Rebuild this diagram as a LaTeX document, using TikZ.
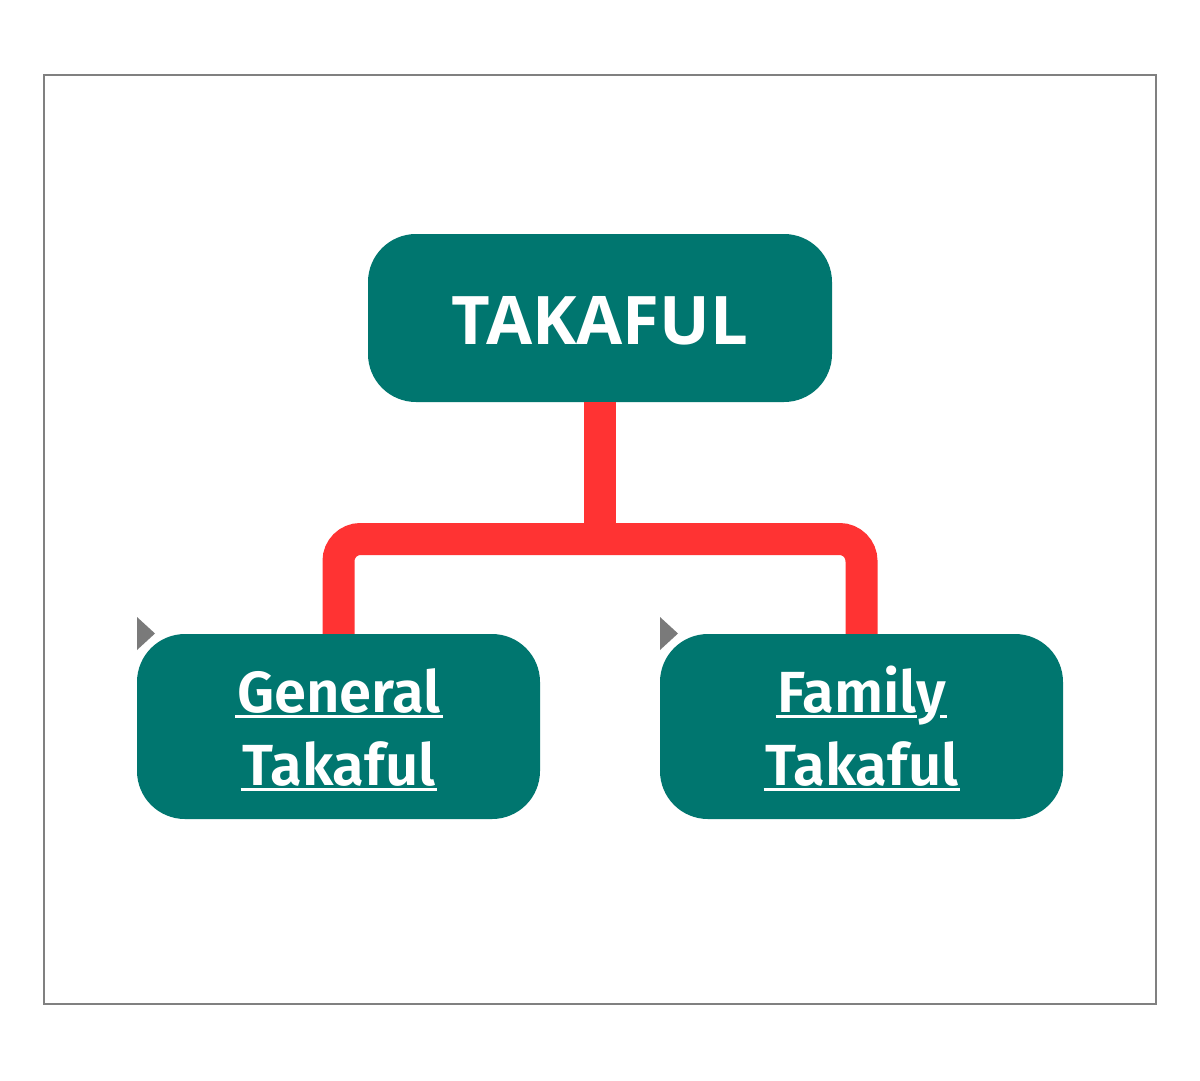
\documentclass[tikz,border=0pt]{standalone}
\usepackage{fontspec}
\newfontfamily\topfont{Open Sans}
\newfontfamily\subfont{Fira Sans}[UprightFont=* SemiBold]
\definecolor{teal}{HTML}{00766F}
\definecolor{conred}{HTML}{FF3333}
\definecolor{trigray}{HTML}{7A7A7A}
\definecolor{framegray}{HTML}{808080}
\newcommand\ulx[1]{\setbox0\hbox{#1}\rlap{\kern-2pt\rule[-5.6pt]{\dimexpr\wd0+4pt\relax}{3pt}}\box0}
\newcommand\ulfamily{\setbox0\hbox{Famil}\setbox2\hbox{y}\rlap{\kern-2pt\rule[-5.6pt]{\dimexpr\wd0+2pt\relax}{3pt}}\box0\rlap{\kern\dimexpr\wd2-6pt\relax\rule[-5.6pt]{7pt}{3pt}}\box2}
\tikzset{
  box/.style={fill=teal, rounded corners=48pt, inner sep=0pt, draw=none},
  toptext/.style={text=white, font=\topfont\bfseries\fontsize{67}{67}\selectfont, inner sep=0pt},
  subtext/.style={text=white, font=\subfont\fontsize{58}{58}\selectfont, inner sep=0pt},
  conn/.style={draw=conred, line width=32pt},
  tri/.style={fill=trigray},
}
\begin{document}
\begin{tikzpicture}[x=1pt,y=-1pt]
\useasboundingbox[fill=white] (0,0) rectangle (1200,1080);
\draw[framegray, line width=1.5pt] (44,75) rectangle (1156,1004);
% nodes
\node[box, minimum width=464pt, minimum height=168pt] (top) at (600,318) {};
\node[box, minimum width=403pt, minimum height=185pt] (gen) at (338.5,726.5) {};
\node[box, minimum width=403pt, minimum height=185pt] (fam) at (861.5,726.5) {};
\node[toptext, anchor=base] (toplbl) at (600,344) {TAKAFUL};
\node[subtext, anchor=base] (gen1) at (339,712) {\ulx{General}};
\node[subtext, anchor=base] (gen2) at (339,785) {\ulx{Takaful}};
\node[subtext, anchor=base] (fam1) at (862,712) {\ulfamily};
\node[subtext, anchor=base] (fam2) at (862,785) {\ulx{Takaful}};
% connectors
\coordinate (bar) at (600,539);
\draw[conn, rounded corners=22pt] (gen.north) |- (bar) -| (fam.north);
\draw[conn] (top.south) -- (bar);
% triangles
\fill[tri] (137,617) -- (155,633.5) -- (137,650) -- cycle;
\fill[tri] (660,617) -- (678,633.5) -- (660,650) -- cycle;
\end{tikzpicture}
\end{document}
